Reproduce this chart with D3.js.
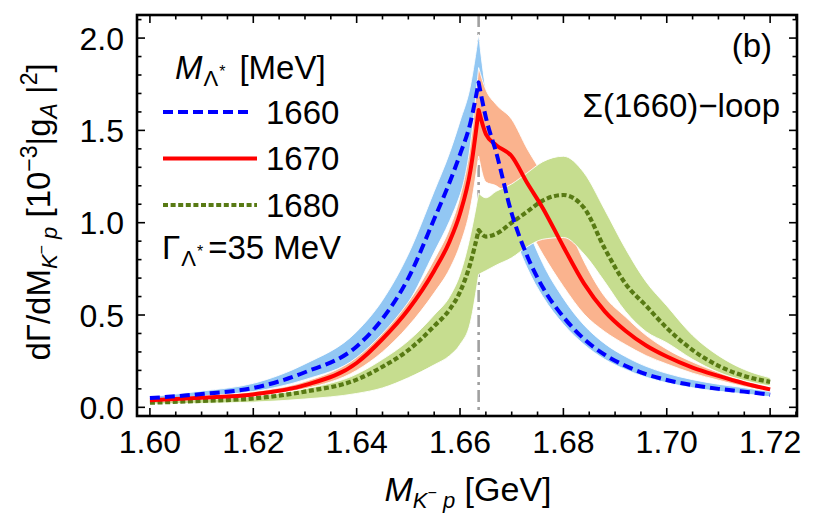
<!DOCTYPE html>
<html>
<head>
<meta charset="utf-8">
<script src="https://cdn.jsdelivr.net/npm/d3@7"></script>
<style>
  body { margin: 0; background: #fff; }
  svg { display: block; }
  text { font-family: "Liberation Sans", Arial, Helvetica, sans-serif; fill: #000; }
</style>
</head>
<body>
<svg id="chart" width="816" height="520"></svg>
<script>
// Invariant mass of the K- p pair (GeV); the point at 1.6636 is the cusp
const mass = [1.600, 1.610, 1.620, 1.630, 1.640, 1.645, 1.650, 1.655, 1.658, 1.660, 1.662,
              1.6636,
              1.665, 1.667, 1.670, 1.673, 1.676, 1.680, 1.684, 1.688, 1.692, 1.696, 1.700,
              1.705, 1.710, 1.715, 1.720];
const cuspIndex = 11;
const cuspMass = 1.6636;

// M = 1660 MeV: central curve and band
const mid1660 = [0.050, 0.072, 0.105, 0.19, 0.33, 0.48, 0.70, 1.02, 1.22, 1.37, 1.54,
                 1.76,
                 1.57, 1.38, 1.05, 0.82, 0.65, 0.49, 0.37, 0.285, 0.225, 0.18, 0.148,
                 0.12, 0.10, 0.085, 0.068];
const lo1660 = [0.043, 0.060, 0.085, 0.15, 0.265, 0.385, 0.565, 0.84, 1.01, 1.15, 1.33,
                1.55,
                1.42, 1.27, 0.97, 0.755, 0.60, 0.45, 0.34, 0.26, 0.205, 0.163, 0.133,
                0.106, 0.087, 0.073, 0.057];
const hi1660 = [0.058, 0.088, 0.13, 0.235, 0.41, 0.58, 0.83, 1.17, 1.38, 1.55, 1.74,
                2.02,
                1.72, 1.55, 1.24, 0.98, 0.78, 0.59, 0.445, 0.345, 0.275, 0.222, 0.184,
                0.15, 0.125, 0.106, 0.086];

// M = 1670 MeV
const mid1670 = [0.038, 0.052, 0.070, 0.12, 0.24, 0.37, 0.53, 0.74, 0.90, 1.05, 1.28,
                 1.61,
                 1.48, 1.42, 1.36, 1.215, 1.08, 0.87, 0.67, 0.52, 0.415, 0.335, 0.275,
                 0.215, 0.17, 0.13, 0.097];
const lo1670 = [0.033, 0.046, 0.062, 0.10, 0.20, 0.30, 0.44, 0.62, 0.75, 0.88, 1.08,
                1.36,
                1.22, 1.20, 1.12, 0.98, 0.83, 0.655, 0.505, 0.41, 0.34, 0.28, 0.235,
                0.185, 0.147, 0.112, 0.086];
const hi1670 = [0.045, 0.062, 0.085, 0.14, 0.27, 0.40, 0.57, 0.80, 0.97, 1.14, 1.42,
                1.84,
                1.72, 1.64, 1.56, 1.40, 1.26, 1.04, 0.79, 0.60, 0.49, 0.39, 0.315,
                0.245, 0.19, 0.145, 0.108];

// M = 1680 MeV
const mid1680 = [0.025, 0.035, 0.048, 0.085, 0.15, 0.22, 0.31, 0.44, 0.53, 0.625, 0.78,
                 0.96,
                 0.925, 0.94, 1.00, 1.06, 1.12, 1.15, 1.08, 0.86, 0.67, 0.55, 0.43,
                 0.31, 0.225, 0.17, 0.138];
const lo1680 = [0.018, 0.022, 0.028, 0.045, 0.075, 0.105, 0.16, 0.23, 0.28, 0.34, 0.46,
                0.72,
                0.74, 0.77, 0.81, 0.87, 0.91, 0.92, 0.83, 0.68, 0.52, 0.41, 0.35,
                0.26, 0.19, 0.145, 0.115];
const hi1680 = [0.030, 0.042, 0.058, 0.10, 0.18, 0.26, 0.36, 0.50, 0.60, 0.72, 0.93,
                1.16,
                1.135, 1.17, 1.21, 1.27, 1.33, 1.36, 1.27, 1.07, 0.86, 0.68, 0.55,
                0.39, 0.28, 0.205, 0.16];

const seriesLabels = ["1660", "1670", "1680"];
const xTickValues = [1.60, 1.62, 1.64, 1.66, 1.68, 1.70, 1.72];
const yTickValues = [0.0, 0.5, 1.0, 1.5, 2.0];

// ---- layout ----
const svg = d3.select("#chart");
const box = { left: 137, right: 797, top: 15, bottom: 416 };
const x = d3.scaleLinear().domain([1.5975, 1.7252]).range([box.left, box.right]);
const y = d3.scaleLinear().domain([-0.047, 2.125]).range([box.bottom, box.top]);

const series = [
  { label: seriesLabels[0], mid: mid1660, lo: lo1660, hi: hi1660,
    stroke: "#0000ff", fill: "#92c7f3", dash: "10,5", width: 4 },
  { label: seriesLabels[1], mid: mid1670, lo: lo1670, hi: hi1670,
    stroke: "#ff0000", fill: "#fab38e", dash: null, width: 4 },
  { label: seriesLabels[2], mid: mid1680, lo: lo1680, hi: hi1680,
    stroke: "#587a14", fill: "#c6dd8f", dash: "5,2.6", width: 4.2 }
];

svg.append("defs").append("clipPath").attr("id", "plotClip")
  .append("rect").attr("x", box.left).attr("y", box.top)
  .attr("width", box.right - box.left).attr("height", box.bottom - box.top);

const plot = svg.append("g").attr("clip-path", "url(#plotClip)");

// ---- curve helpers: each branch is smoothed on its own so the cusp stays sharp ----
const lineGen = d3.line().x(d => x(d[0])).y(d => y(d[1])).curve(d3.curveMonotoneX);
function branch(vals, from, to) {
  return d3.range(from, to + 1).map(i => [mass[i], vals[i]]);
}
function fullCurve(vals) {
  const left = lineGen(branch(vals, 0, cuspIndex));
  const right = lineGen(branch(vals, cuspIndex, mass.length - 1));
  return left + right.replace(/^M/, "L");
}
function bandPath(lo, hi) {
  const upper = fullCurve(hi);
  const lowR = lineGen(branch(lo, cuspIndex, mass.length - 1).reverse());
  const lowL = lineGen(branch(lo, 0, cuspIndex).reverse());
  return upper + lowR.replace(/^M/, "L") + lowL.replace(/^M/, "L") + "Z";
}

// threshold marker (dash-dot)
plot.append("line")
  .attr("x1", x(cuspMass)).attr("x2", x(cuspMass))
  .attr("y1", box.top).attr("y2", box.bottom)
  .attr("stroke", "#a0a0a0").attr("stroke-width", 2.6)
  .attr("stroke-dasharray", "12,5,3,5");

// uncertainty bands
series.forEach(s => {
  plot.append("path")
    .attr("d", bandPath(s.lo, s.hi))
    .attr("fill", s.fill)
    .attr("stroke", "#ffffff").attr("stroke-width", 0.9)
    .attr("stroke-linejoin", "round");
});

// central curves (green first, blue on top)
series.slice().reverse().forEach(s => {
  plot.append("path")
    .attr("d", fullCurve(s.mid))
    .attr("fill", "none")
    .attr("stroke", s.stroke)
    .attr("stroke-width", s.width)
    .attr("stroke-dasharray", s.dash)
    .attr("stroke-linejoin", "round");
});

// ---- frame and ticks ----
const axisG = svg.append("g").attr("stroke", "#000");
const xMinor = d3.range(1.600, 1.7251, 0.005).filter(v => x(v) > box.left + 1 && x(v) < box.right - 1);
const yMinor = d3.range(0.0, 2.1001, 0.1);

xMinor.forEach(v => {
  const isMajor = xTickValues.some(t => Math.abs(t - v) < 1e-6);
  const len = isMajor ? 8 : 4.5;
  axisG.append("line").attr("x1", x(v)).attr("x2", x(v))
    .attr("y1", box.bottom).attr("y2", box.bottom - len).attr("stroke-width", 1.6);
  axisG.append("line").attr("x1", x(v)).attr("x2", x(v))
    .attr("y1", box.top).attr("y2", box.top + len).attr("stroke-width", 1.6);
});
yMinor.forEach(v => {
  const isMajor = yTickValues.some(t => Math.abs(t - v) < 1e-6);
  const len = isMajor ? 8 : 4.5;
  axisG.append("line").attr("y1", y(v)).attr("y2", y(v))
    .attr("x1", box.left).attr("x2", box.left + len).attr("stroke-width", 1.6);
  axisG.append("line").attr("y1", y(v)).attr("y2", y(v))
    .attr("x1", box.right).attr("x2", box.right - len).attr("stroke-width", 1.6);
});

svg.append("rect")
  .attr("x", box.left).attr("y", box.top)
  .attr("width", box.right - box.left).attr("height", box.bottom - box.top)
  .attr("fill", "none").attr("stroke", "#000").attr("stroke-width", 2.6);

// tick labels
const tickFont = 32;
svg.append("g").selectAll("text").data(xTickValues).join("text")
  .attr("x", d => x(d)).attr("y", 453)
  .attr("text-anchor", "middle").attr("font-size", tickFont)
  .text(d => d3.format(".2f")(d));
svg.append("g").selectAll("text").data(yTickValues).join("text")
  .attr("x", 124).attr("y", d => y(d) + 11.5)
  .attr("text-anchor", "end").attr("font-size", tickFont)
  .text(d => d3.format(".1f")(d));

// ---- rich text helper ----
function rich(g, parts) {
  parts.forEach(p => {
    const t = g.append("tspan").text(p.t);
    if (p.size) t.attr("font-size", p.size);
    if (p.italic) t.attr("font-style", "italic");
    if (p.dy) t.attr("dy", p.dy);
    if (p.dx) t.attr("dx", p.dx);
  });
  return g;
}

// x-axis title
rich(svg.append("text").attr("x", 468).attr("y", 501).attr("text-anchor", "middle")
  .attr("font-size", 34), [
  { t: "M", italic: true },
  { t: "K", italic: true, size: 22, dy: 7 },
  { t: "\u2212", size: 16, dy: -10 },
  { t: " p", italic: true, size: 22, dy: 10 },
  { t: " [GeV]", dy: -7 }
]);

// y-axis title
rich(svg.append("text").attr("transform", "translate(50,212) rotate(-90)")
  .attr("text-anchor", "middle").attr("font-size", 33), [
  { t: "d\u0393/dM" },
  { t: "K", italic: true, size: 22, dy: 7 },
  { t: "\u2212", size: 16, dy: -10 },
  { t: " p", italic: true, size: 22, dy: 10 },
  { t: " [10", dy: -7 },
  { t: "\u22123", size: 23, dy: -13 },
  { t: "|g", dy: 13 },
  { t: "A", italic: true, size: 23, dy: 7 },
  { t: " |", dy: -7 },
  { t: "2", size: 23, dy: -13 },
  { t: "]", dy: 13 }
]);

// panel tags
svg.append("text").attr("x", 772).attr("y", 57).attr("text-anchor", "end")
  .attr("font-size", 33).text("(b)");
svg.append("text").attr("x", 780).attr("y", 117).attr("text-anchor", "end")
  .attr("font-size", 33).text("\u03A3(1660)\u2212loop");

// ---- legend ----
rich(svg.append("text").attr("x", 175).attr("y", 79).attr("font-size", 33), [
  { t: "M", italic: true },
  { t: "\u039B", size: 22, dy: 7, dx: 1 },
  { t: "*", size: 16, dy: -9, dx: 1 },
  { t: "[MeV]", dy: 2, dx: 14 }
]);

const legendRows = [112, 158.5, 205];
series.forEach((s, i) => {
  svg.append("line")
    .attr("x1", 163).attr("x2", i === 0 ? 253 : 257)
    .attr("y1", legendRows[i]).attr("y2", legendRows[i])
    .attr("stroke", s.stroke).attr("stroke-width", s.width)
    .attr("stroke-dasharray", s.dash);
  svg.append("text").attr("x", 266).attr("y", legendRows[i] + 11.5)
    .attr("font-size", 33).text(s.label);
});

rich(svg.append("text").attr("x", 162).attr("y", 259).attr("font-size", 33), [
  { t: "\u0393" },
  { t: "\u039B", size: 22, dy: 7, dx: 1 },
  { t: "*", size: 16, dy: -9, dx: 1 },
  { t: "=35 MeV", dy: 2, dx: 5 }
]);
</script>
</body>
</html>
